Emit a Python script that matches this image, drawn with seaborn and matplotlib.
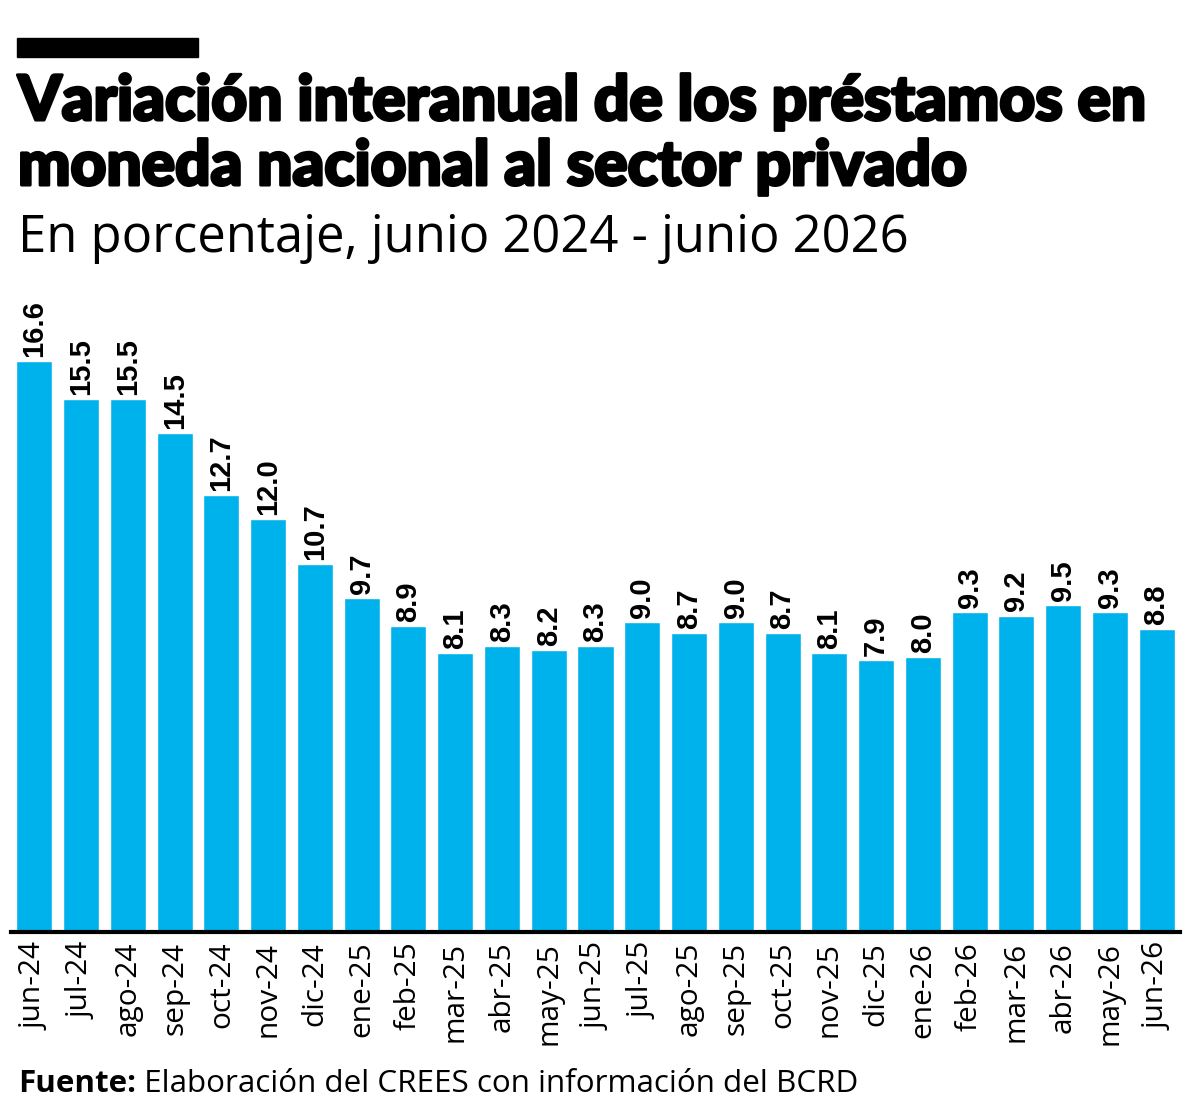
import matplotlib
matplotlib.use("Agg")
import matplotlib.pyplot as plt
import matplotlib.patheffects as pe
import seaborn as sns
import pandas as pd
from matplotlib.patches import Rectangle

# data
months = ["jun-24", "jul-24", "ago-24", "sep-24", "oct-24", "nov-24", "dic-24",
          "ene-25", "feb-25", "mar-25", "abr-25", "may-25", "jun-25", "jul-25",
          "ago-25", "sep-25", "oct-25", "nov-25", "dic-25", "ene-26", "feb-26",
          "mar-26", "abr-26", "may-26", "jun-26"]
values = [16.6, 15.5, 15.5, 14.5, 12.7, 12.0, 10.7, 9.7, 8.9, 8.1, 8.3, 8.2,
          8.3, 9.0, 8.7, 9.0, 8.7, 8.1, 7.9, 8.0, 9.3, 9.2, 9.5, 9.3, 8.8]

title_1 = "Variación interanual de los préstamos en"
title_2 = "moneda nacional al sector privado"
subtitle = "En porcentaje, junio 2024 - junio 2026"
source_bold = "Fuente:"
source_text = " Elaboración del CREES con información del BCRD"

df = pd.DataFrame({"mes": months, "valor": values})

sns.set_style("white")
plt.rcParams["font.family"] = ["Open Sans", "DejaVu Sans"]
plt.rcParams["text.color"] = "black"
plt.rcParams["xtick.color"] = "black"

W, H = 1200, 1118
fig = plt.figure(figsize=(12, 11.18), dpi=100)
ax = fig.add_axes([11 / W, 1 - 932 / H, 1169 / W, 642 / H])

bar_color = "#00B2EB"
sns.barplot(data=df, x="mes", y="valor", color=bar_color, saturation=1,
            width=0.77, ax=ax)

ax.set_xlim(-0.5, len(months) - 0.5)
ax.set_ylim(0, 642 / 34.4)

for i, v in enumerate(values):
    ax.annotate(f"{v:.1f}", (i, v), xytext=(0, 3), textcoords="offset points",
                rotation=90, ha="center", va="bottom", fontsize=21,
                fontweight="bold", family="Liberation Sans", color="black")

ax.set_xlabel("")
ax.set_ylabel("")
ax.set_yticks([])
ax.tick_params(axis="x", length=0, pad=7, labelsize=21.5, rotation=90,
               labelcolor="black")
for lab in ax.get_xticklabels():
    lab.set_family("Open Sans")
sns.despine(ax=ax, left=True)
ax.spines["bottom"].set_linewidth(3)
ax.spines["bottom"].set_color("black")

# black header bar
fig.patches.append(Rectangle((17 / W, 1 - 57 / H), 181 / W, 19 / H,
                             transform=fig.transFigure, color="black"))

heavy = [pe.withStroke(linewidth=2.2, foreground="black")]
fig.text(18 / W, 1 - 120 / H, title_1, fontsize=44.8, fontweight="black",
         family="Lato", va="baseline", ha="left", path_effects=heavy)
fig.text(18 / W, 1 - 185 / H, title_2, fontsize=44.8, fontweight="black",
         family="Lato", va="baseline", ha="left", path_effects=heavy)
fig.text(18 / W, 1 - 252 / H, subtitle, fontsize=36.5, family="Open Sans",
         va="baseline", ha="left")

t = fig.text(18 / W, 1 - 1092 / H, source_bold, fontsize=22.6, fontweight="bold",
             family="Open Sans", va="baseline", ha="left")
fig.canvas.draw()
bb = t.get_window_extent()
fig.text(bb.x1 / W, 1 - 1092 / H, source_text, fontsize=22.6, family="Open Sans",
         va="baseline", ha="left")

fig.savefig("out.png", dpi=100)
